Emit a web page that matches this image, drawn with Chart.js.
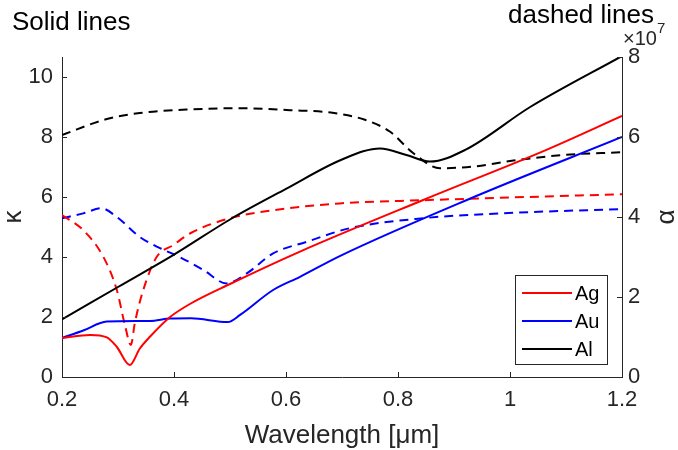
<!DOCTYPE html>
<html>
<head>
<meta charset="utf-8">
<script src="https://cdn.jsdelivr.net/npm/chart.js@4.4.1/dist/chart.umd.min.js"></script>
<style>
  html, body { margin: 0; padding: 0; background: #fff; }
</style>
</head>
<body>
<canvas id="myChart" width="678" height="450"></canvas>
<script>
// tick values
var xTicks = [0.2, 0.4, 0.6, 0.8, 1, 1.2];
var kappaTicks = [0, 2, 4, 6, 8, 10];
var alphaTicks = [0, 2, 4, 6, 8];   // x 10^7

// solid lines: kappa (left axis)
var agKappaX = [0.2, 0.25, 0.28, 0.298, 0.321, 0.339, 0.357, 0.393, 0.43, 0.5, 0.625, 0.845, 1.065, 1.2];
var agKappaY = [1.3, 1.4, 1.32, 1.0, 0.4, 0.95, 1.34, 2.0, 2.45, 3.1, 4.18, 5.9, 7.57, 8.7];
var auKappaX = [0.2, 0.238, 0.28, 0.357, 0.393, 0.43, 0.496, 0.518, 0.577, 0.625, 0.696, 0.923, 1.2];
var auKappaY = [1.3, 1.55, 1.85, 1.87, 1.95, 1.96, 1.83, 2.07, 2.9, 3.34, 4.03, 5.9, 8.0];
var alKappaX = [0.2, 0.3, 0.4, 0.5, 0.6, 0.7, 0.768, 0.815, 0.857, 0.92, 1.036, 1.2];
var alKappaY = [1.92, 3.0, 4.08, 5.25, 6.27, 7.25, 7.62, 7.4, 7.18, 7.57, 9.0, 10.7];

// dashed lines: alpha in units of 10^7 (right axis)
var agAlphaX = [0.2, 0.238, 0.274, 0.298, 0.313, 0.323, 0.33, 0.345, 0.369, 0.399, 0.43, 0.5, 0.577, 0.696, 0.845, 0.982, 1.2];
var agAlphaY = [4.05, 3.67, 3.0, 2.17, 1.26, 0.8, 1.35, 2.17, 3.0, 3.3, 3.6, 3.97, 4.17, 4.34, 4.42, 4.48, 4.57];
var auAlphaX = [0.2, 0.238, 0.27, 0.298, 0.339, 0.375, 0.41, 0.452, 0.494, 0.53, 0.577, 0.637, 0.714, 0.845, 0.982, 1.2];
var auAlphaY = [3.97, 4.09, 4.22, 4.0, 3.5, 3.22, 3.0, 2.68, 2.34, 2.59, 3.09, 3.38, 3.72, 3.97, 4.09, 4.2];
var alAlphaX = [0.2, 0.28, 0.339, 0.43, 0.518, 0.607, 0.68, 0.741, 0.786, 0.827, 0.875, 0.934, 1.006, 1.095, 1.2];
var alAlphaY = [6.05, 6.45, 6.6, 6.69, 6.72, 6.67, 6.61, 6.43, 6.13, 5.6, 5.22, 5.26, 5.41, 5.55, 5.62];

var FONT = '"Liberation Sans", Arial, Helvetica, sans-serif';
var AXIS = '#262626';

function pts(xs, ys) {
    return xs.map(function (x, i) { return { x: x, y: ys[i] }; });
}

function line(label, color, xs, ys, axis, dashed) {
    return {
        label: label,
        data: pts(xs, ys),
        yAxisID: axis,
        borderColor: color,
        backgroundColor: color,
        borderWidth: 2,
        borderDash: dashed ? [9, 6] : [],
        pointRadius: 0,
        fill: false,
        cubicInterpolationMode: 'monotone',
        inLegend: !dashed
    };
}

/* inward ticks, texts and legend like the matlab figure */
var decor = {
    id: 'decor',
    afterDraw: function (chart) {
        var ctx = chart.ctx;
        var a = chart.chartArea;
        var sx = chart.scales.x, sk = chart.scales.y, sa = chart.scales.y1;
        ctx.save();
        ctx.strokeStyle = AXIS;
        ctx.lineWidth = 1;
        ctx.beginPath();
        xTicks.forEach(function (v) {
            var px = Math.round(sx.getPixelForValue(v)) + 0.5;
            ctx.moveTo(px, a.bottom); ctx.lineTo(px, a.bottom - 5);
        });
        kappaTicks.forEach(function (v) {
            var py = Math.round(sk.getPixelForValue(v)) + 0.5;
            ctx.moveTo(a.left, py); ctx.lineTo(a.left + 5, py);
        });
        alphaTicks.forEach(function (v) {
            var py = Math.round(sa.getPixelForValue(v)) + 0.5;
            ctx.moveTo(a.right, py); ctx.lineTo(a.right - 5, py);
        });
        ctx.stroke();

        // titles
        ctx.fillStyle = '#000';
        ctx.font = '26px ' + FONT;
        ctx.textBaseline = 'middle';
        ctx.textAlign = 'left';
        ctx.fillText('Solid lines', 12, 23);
        ctx.textAlign = 'right';
        ctx.fillText('dashed lines', 654, 16);

        ctx.fillStyle = AXIS;
        ctx.font = '20px ' + FONT;
        ctx.textAlign = 'left';
        ctx.fillText('\u00d710', 623, 39);
        ctx.font = '15px ' + FONT;
        ctx.fillText('7', 657, 29);

        // axis titles
        ctx.font = '26px ' + FONT;
        ctx.textAlign = 'center';
        ctx.fillText('Wavelength [\u03bcm]', (a.left + a.right) / 2, 436);
        ctx.save();
        ctx.translate(14, (a.top + a.bottom) / 2);
        ctx.rotate(-Math.PI / 2);
        ctx.fillText('\u03ba', 0, 0);
        ctx.restore();
        ctx.save();
        ctx.translate(667, (a.top + a.bottom) / 2);
        ctx.rotate(-Math.PI / 2);
        ctx.fillText('\u03b1', 0, 0);
        ctx.restore();

        // legend (solid lines only)
        var items = chart.data.datasets.filter(function (d) { return d.inLegend; });
        ctx.fillStyle = '#fff';
        ctx.fillRect(515, 275, 93, 90);
        ctx.strokeStyle = AXIS;
        ctx.lineWidth = 1;
        ctx.strokeRect(515.5, 275.5, 92, 89);
        ctx.font = '20px ' + FONT;
        ctx.textAlign = 'left';
        items.forEach(function (d, i) {
            var y = 293 + i * 28;
            ctx.strokeStyle = d.borderColor;
            ctx.lineWidth = 2;
            ctx.beginPath();
            ctx.moveTo(522, y); ctx.lineTo(572, y);
            ctx.stroke();
            ctx.fillStyle = '#000';
            ctx.fillText(d.label, 575, y + 1);
        });
        ctx.restore();
    }
};

var ctx = document.getElementById('myChart').getContext('2d');
var chart = new Chart(ctx, {
    type: 'line',
    data: {
        datasets: [
            line('Ag', '#ff0000', agKappaX, agKappaY, 'y', false),
            line('Au', '#0000ff', auKappaX, auKappaY, 'y', false),
            line('Al', '#000000', alKappaX, alKappaY, 'y', false),
            line('Ag', '#ff0000', agAlphaX, agAlphaY, 'y1', true),
            line('Au', '#0000ff', auAlphaX, auAlphaY, 'y1', true),
            line('Al', '#000000', alAlphaX, alAlphaY, 'y1', true)
        ]
    },
    options: {
        responsive: false,
        animation: false,
        devicePixelRatio: 1,
        layout: { padding: { top: 57, left: 0, right: 0, bottom: 0 } },
        plugins: {
            legend: { display: false },
            tooltip: { enabled: false }
        },
        scales: {
            x: {
                type: 'linear',
                min: 0.2,
                max: 1.2,
                afterBuildTicks: function (s) { s.ticks = xTicks.map(function (v) { return { value: v }; }); },
                afterFit: function (s) { s.height = 73; },
                grid: { display: false, drawTicks: false },
                border: { display: true, color: AXIS, width: 1 },
                ticks: {
                    color: AXIS,
                    font: { family: FONT, size: 22 },
                    padding: 10,
                    maxRotation: 0,
                    callback: function (v) { return String(v); }
                }
            },
            y: {
                position: 'left',
                min: 0,
                max: 32 / 3,
                afterBuildTicks: function (s) { s.ticks = kappaTicks.map(function (v) { return { value: v }; }); },
                afterFit: function (s) { s.width = 62; },
                grid: { display: false, drawTicks: false },
                border: { display: true, color: AXIS, width: 1 },
                ticks: {
                    color: AXIS,
                    font: { family: FONT, size: 22 },
                    padding: 9,
                    callback: function (v) { return String(v); }
                }
            },
            y1: {
                position: 'right',
                min: 0,
                max: 8,
                afterBuildTicks: function (s) { s.ticks = alphaTicks.map(function (v) { return { value: v }; }); },
                afterFit: function (s) { s.width = 56; },
                grid: { display: false, drawTicks: false },
                border: { display: true, color: AXIS, width: 1 },
                ticks: {
                    color: AXIS,
                    font: { family: FONT, size: 22 },
                    padding: 6,
                    callback: function (v) { return String(v); }
                }
            }
        }
    },
    plugins: [decor]
});
</script>
</body>
</html>
